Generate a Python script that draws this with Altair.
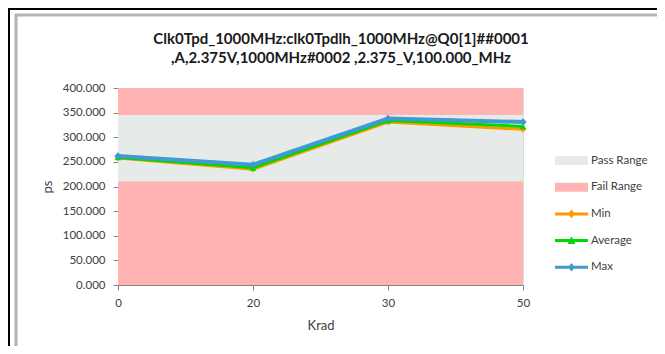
import altair as alt
import pandas as pd

# ---- data ----
krad = [0, 20, 30, 50]
series_names = ["Min", "Average", "Max"]
min_vals = [258, 235, 331, 316]
avg_vals = [259, 238, 334, 322]
max_vals = [262, 244, 338, 331]
pass_range = [210, 345]
axis_range = [0, 400]
y_ticks = [0, 50, 100, 150, 200, 250, 300, 350, 400]
legend_names = ["Pass Range", "Fail Range", "Min", "Average", "Max"]
legend_colors = ["#e6ebea", "#ffb3b3", "#ff9900", "#00d800", "#3f9bd0"]
title_lines = ["Clk0Tpd_1000MHz:clk0Tpdlh_1000MHz@Q0[1]##0001",
               ",A,2.375V,1000MHz#0002 ,2.375_V,100.000_MHz"]

W, H = 405, 197
FONT = "Lato"
TXT = "#404040"
AX = "#868686"

rows = []
for name, vals in zip(series_names, [min_vals, avg_vals, max_vals]):
    for k, v in zip(krad, vals):
        rows.append({"krad": str(k), "value": v, "series": name})
df = pd.DataFrame(rows)

ranges = pd.DataFrame({
    "low": [axis_range[0], pass_range[0]],
    "high": [axis_range[1], pass_range[1]],
    "kind": ["Fail Range", "Pass Range"],
})

xaxis = alt.Axis(labelAngle=0, title="Krad", grid=False,
                 domainColor=AX, tickColor=AX, tickSize=5,
                 labelFont=FONT, labelFontSize=11.5, labelColor=TXT,
                 labelPadding=7, titleFont=FONT, titleFontSize=13,
                 titleFontWeight="normal", titleColor=TXT, titlePadding=11)
xenc = alt.X("krad:O", sort=[str(k) for k in krad],
             scale=alt.Scale(type="point", padding=0), axis=xaxis)
yscale = alt.Scale(domain=axis_range, nice=False, zero=True)
yaxis = alt.Axis(values=y_ticks, format=".3f", title="ps", grid=False,
                 labelOverlap=False, labelFlush=False,
                 domainColor=AX, tickColor=AX, tickSize=5,
                 labelFont=FONT, labelFontSize=11.5, labelColor=TXT, labelPadding=8,
                 titleFont=FONT, titleFontSize=13, titleFontWeight="normal",
                 titleColor=TXT, titlePadding=8)

fail = alt.Chart(ranges).transform_filter(alt.datum.kind == "Fail Range").mark_rect(
    color=legend_colors[1]).encode(
    y=alt.Y("low:Q", scale=yscale, axis=yaxis), y2="high:Q")
pas = alt.Chart(ranges).transform_filter(alt.datum.kind == "Pass Range").mark_rect(
    color=legend_colors[0]).encode(
    y=alt.Y("low:Q", scale=yscale, axis=yaxis), y2="high:Q")

layers = [fail, pas]
styles = {"Min": (legend_colors[2], 3, "diamond", 45),
          "Average": (legend_colors[3], 3, "triangle-up", 45),
          "Max": (legend_colors[4], 4, "diamond", 55)}
for name in series_names:
    col, sw, shp, sz = styles[name]
    base = alt.Chart(df).transform_filter(alt.datum.series == name)
    layers.append(base.mark_line(color=col, strokeWidth=sw).encode(
        x=xenc, y=alt.Y("value:Q", scale=yscale, axis=yaxis)))
    layers.append(base.mark_point(color=col, filled=True, shape=shp, size=sz,
                                  opacity=1).encode(
        x=xenc, y=alt.Y("value:Q", scale=yscale, axis=yaxis)))

rect_path = "M-1,-0.27H1V0.27H-1Z"
line_d = "M-1,-0.09H1V0.09H-1Z M0,-0.26L0.22,0L0,0.26L-0.22,0Z"
line_t = "M-1,-0.09H1V0.09H-1Z M0,-0.26L0.24,0.2L-0.24,0.2Z"
paths = [rect_path, rect_path, line_d, line_t, line_d]

leg_df = pd.DataFrame({"name": legend_names})
legend = alt.Legend(title=None, orient="none", legendX=437, legendY=56,
                    symbolSize=1089, symbolOpacity=1, symbolStrokeWidth=0,
                    labelFont=FONT, labelFontSize=11.5, labelColor=TXT,
                    labelOffset=3)
leg = alt.Chart(leg_df).mark_point(filled=True, opacity=0).encode(
    color=alt.Color("name:N", scale=alt.Scale(domain=legend_names, range=legend_colors),
                    legend=legend),
    shape=alt.Shape("name:N", scale=alt.Scale(domain=legend_names, range=paths),
                    legend=legend),
)
layers.append(leg)

# title as two text lines
t_df = pd.DataFrame({"line": title_lines, "idx": [0, 1]})
for i, yy in enumerate([-49, -30]):
    layers.append(
        alt.Chart(t_df).transform_filter(alt.datum.idx == i).mark_text(
            font=FONT, fontSize=15, fontWeight="bold", color="#1a1a1a",
            align="center", baseline="middle").encode(
            text="line:N", x=alt.value(223), y=alt.value(yy)))

frame_df = pd.DataFrame({"k": [0]})
frames = [
    alt.Chart(frame_df).mark_rule(color="#000000", strokeWidth=2).encode(
        x=alt.value(-109), y=alt.value(-80), y2=alt.value(266)),
    alt.Chart(frame_df).mark_rule(color="#000000", strokeWidth=2).encode(
        y=alt.value(-79), x=alt.value(-110), x2=alt.value(539)),
    alt.Chart(frame_df).mark_rule(color="#b4b4b4", strokeWidth=3).encode(
        x=alt.value(-102), y=alt.value(-74), y2=alt.value(266)),
    alt.Chart(frame_df).mark_rule(color="#b4b4b4", strokeWidth=3).encode(
        y=alt.value(-73), x=alt.value(-103), x2=alt.value(539)),
]
layers.extend(frames)

chart = alt.layer(*layers).resolve_scale(color="independent", shape="independent").properties(
    width=W, height=H,
    autosize=alt.AutoSizeParams(type="none"),
    padding={"left": 110, "top": 80, "right": 134, "bottom": 61},
).configure_view(stroke=None).configure(background="white").configure_legend(
    rowPadding=4.7)

chart.save("out.html", embed_options={"renderer": "svg", "actions": False})
